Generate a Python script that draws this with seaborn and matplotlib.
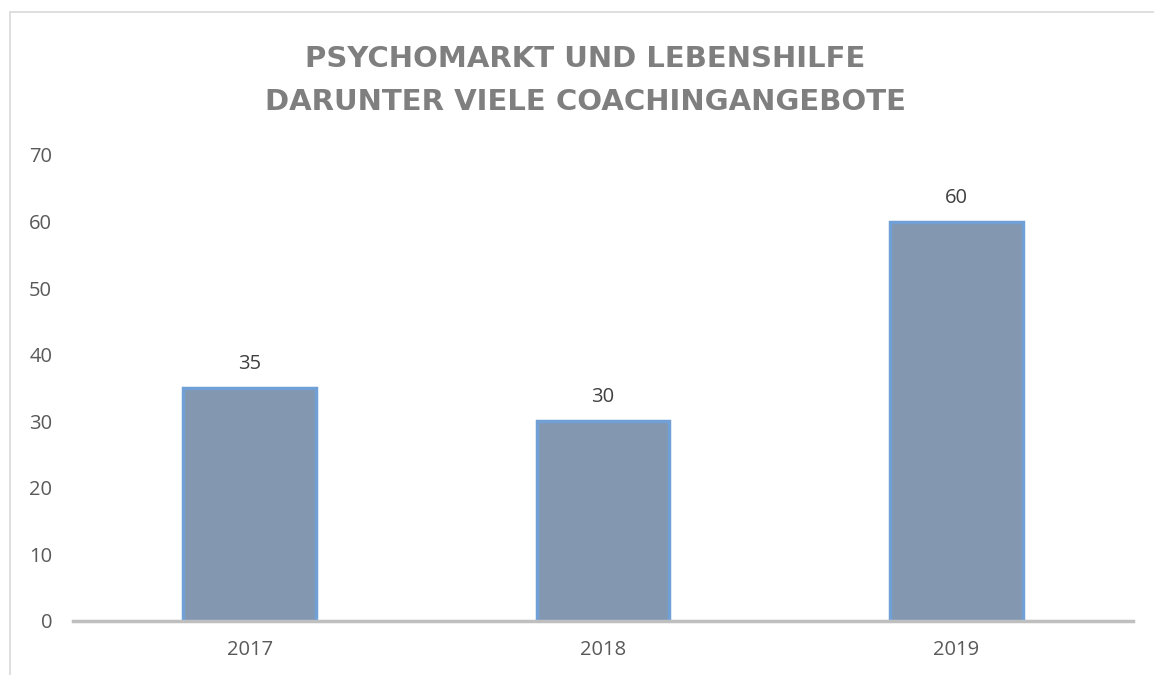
import matplotlib.pyplot as plt
import matplotlib.lines as mlines
import seaborn as sns
import pandas as pd

# Daten
jahre = ["2017", "2018", "2019"]
werte = [35, 30, 60]
titel = "PSYCHOMARKT UND LEBENSHILFE\nDARUNTER VIELE COACHINGANGEBOTE"

df = pd.DataFrame({"jahr": jahre, "wert": werte})

sns.set_style("white")
plt.rcParams["font.family"] = ["Open Sans", "DejaVu Sans"]

fig = plt.figure(figsize=(11.54, 6.75), dpi=100)
ax = fig.add_axes([0.0633, 0.08, 0.9185, 0.6904])

sns.barplot(data=df, x="jahr", y="wert", ax=ax, color="#8497b0",
            width=0.375, edgecolor="#70a0d6", linewidth=2.5, saturation=1)

ax.set_ylim(0, 70)
ax.set_xlim(-0.5, 2.5)
ax.set_yticks(range(0, 71, 10))
ax.set_xlabel("")
ax.set_ylabel("")
ax.tick_params(axis="both", length=0, labelsize=14.5, labelcolor="#595959")
ax.tick_params(axis="x", pad=14)
ax.tick_params(axis="y", pad=15)

for s in ["top", "right", "left"]:
    ax.spines[s].set_visible(False)
ax.spines["bottom"].set_color("#bfbfbf")
ax.spines["bottom"].set_linewidth(2.5)

for cont in ax.containers:
    ax.bar_label(cont, padding=10, fontsize=14.5, color="#404040")

fig.text(0.507, 0.881, titel, ha="center", va="center", fontsize=21,
         fontweight="bold", color="#7f7f7f", linespacing=1.68,
         family=["DejaVu Sans"])

# Rahmen links und oben
fig.add_artist(mlines.Line2D([0.0087, 0.0087], [0.0, 0.982], color="#d9d9d9", lw=1.2))
fig.add_artist(mlines.Line2D([0.0087, 1.0], [0.982, 0.982], color="#d9d9d9", lw=1.2))

fig.savefig("out.png", dpi=100, facecolor="white")
